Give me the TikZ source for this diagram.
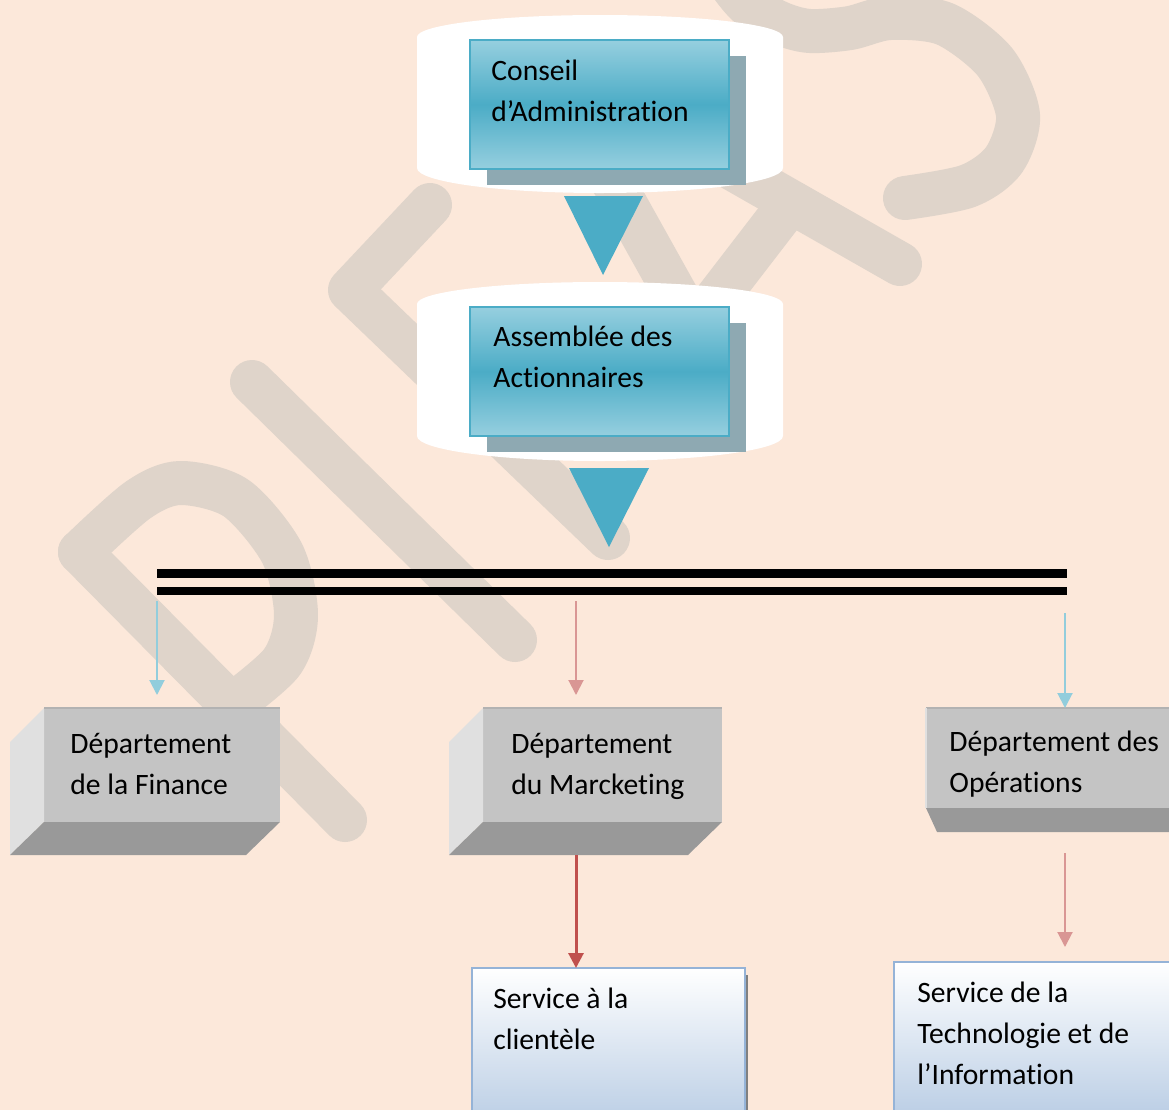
\documentclass[tikz,border=0pt]{standalone}
\usepackage{fontspec}
\setmainfont{Carlito}[Ligatures=NoCommon]
\usetikzlibrary{arrows.meta,calc,shadows}

\definecolor{pagebg}{HTML}{FCE8DA}
\definecolor{wmark}{HTML}{DFD4CA}
\definecolor{boardteal}{HTML}{4BACC6}
\definecolor{tealpale}{HTML}{96CFDF}
\definecolor{slate}{HTML}{8EA9B2}
\definecolor{grayfront}{HTML}{C4C4C4}
\definecolor{grayside}{HTML}{E0E0E0}
\definecolor{graybottom}{HTML}{999999}
\definecolor{grayedge}{HTML}{B2B2B2}
\definecolor{sky}{HTML}{92CDDC}
\definecolor{rose}{HTML}{D99694}
\definecolor{brick}{HTML}{C0504D}
\definecolor{steel}{HTML}{95B3D7}
\definecolor{mist}{HTML}{B8CCE4}

\tikzset{
  wm/.style={wmark, line width=22pt, line cap=round, line join=round},
  bluebox/.style={anchor=north west, outer sep=0pt, draw=boardteal, line width=1pt,
    top color=tealpale, bottom color=tealpale, middle color=boardteal,
    minimum width=129.5pt, minimum height=64.5pt,
    drop shadow={shadow xshift=8.5pt, shadow yshift=-8pt, fill=slate, opacity=1}},
  deptbox/.style={anchor=north west, outer sep=0pt, fill=grayfront, minimum height=57pt},
  svcbox/.style={anchor=north west, outer sep=0pt, draw=steel, line width=1pt,
    top color=white, bottom color=mist, minimum height=80pt,
    drop shadow={shadow xshift=1.5pt, shadow yshift=-3.5pt, fill=gray, opacity=1}},
  lbl/.style={anchor=base west, align=left, inner sep=0pt,
    font=\fontsize{14.8}{20.5}\selectfont},
  bus/.style={line width=4.25pt},
  skyarrow/.style={sky, line width=1pt, -{Triangle[length=7.5pt,width=7.5pt]}},
  rosearrow/.style={rose, line width=1pt, -{Triangle[length=7.5pt,width=7.5pt]}},
  brickarrow/.style={brick, line width=1.5pt, -{Triangle[length=7.5pt,width=7.5pt]}}
}

\begin{document}
\begin{tikzpicture}[x=0.5pt, y=-0.5pt]
    \useasboundingbox (0,0) rectangle (1169,1110);
    \fill[pagebg] (0,0) rectangle (1169,1110);
    \clip (0,0) rectangle (1169,1110); % the page cuts the right and lower boxes

    % watermark
    \draw[wm] (80,552) -- (345,820);
    \draw[wm] plot[smooth] coordinates {(80,552) (138,500) (180,483) (236,498) (282,553) (296,615) (282,662) (232,705)};
    \draw[wm] (252,382) -- (515,640);
    \draw[wm] (430,205) -- (350,290) -- (608,538);
    \draw[wm] (598,155) -- (690,320);
    \draw[wm] (700,150) -- (900,264);
    \draw[wm] (790,203) -- (700,320);
    \draw[wm] plot[smooth] coordinates {(718,-35) (735,-10) (752,8) (782,24) (810,31) (850,28) (890,18) (945,24) (995,62) (1018,115) (1004,160) (968,186) (905,198)};

    % white drums
    \foreach \top/\bot in {37/168, 304/436}{
        \fill[white] (417,\top) arc[start angle=180, end angle=0, x radius=91.5pt, y radius=11pt]
            -- (783,\bot) arc[start angle=0, end angle=-180, x radius=91.5pt, y radius=12.5pt] -- cycle;
    }

    \node[bluebox] (conseil) at (470,40) {};
    \node[lbl] (conseil-lbl) at ([shift={(21,81)}]conseil.north west) {Conseil\\d’Administration};
    \node[bluebox] (assemblee) at (470,307) {};
    \node[lbl] (assemblee-lbl) at ([shift={(23,80)}]assemblee.north west) {Assemblée des\\Actionnaires};

    % funnels
    \fill[boardteal] (564,196) -- (643,196) -- (603,275) -- cycle;
    \fill[boardteal] (569,468) -- (649,468) -- (609,547) -- cycle;

    % double bar
    \coordinate (busL) at (157,573.5);
    \coordinate (busR) at (1067,573.5);
    \draw[bus] (busL) -- (busR);
    \draw[bus] ([yshift=-8.75pt]busL) -- ([yshift=-8.75pt]busR);

    % departments
    \node[deptbox, minimum width=118pt] (fin) at (44,708) {};
    \node[deptbox, minimum width=119.5pt] (mkt) at (483,708) {};
    \node[deptbox, minimum width=125pt, minimum height=50pt] (ops) at (926,708) {};
    \foreach \d in {fin,mkt}{
        \fill[grayside] (\d.north west) -- (\d.south west) -- ++(-34,33) -- ([shift={(-34,34)}]\d.north west) -- cycle;
        \fill[graybottom] (\d.south west) -- (\d.south east) -- ++(-34,33) -- ([shift={(-34,33)}]\d.south west) -- cycle;
        \draw[grayedge, line width=1pt] (\d.north west) -- (\d.north east);
    }
    \fill[graybottom] (ops.south west) -- (ops.south east) -- ++(11,24) -- ([shift={(11,24)}]ops.south west) -- cycle;
    \draw[grayedge, line width=1pt] (ops.north west) -- (ops.north east);
    \draw[grayside, line width=1pt] (ops.north west) -- (ops.south west);

    \node[lbl] (fin-lbl) at ([shift={(26,86)}]fin.north west) {Département\\de la Finance};
    \node[lbl] (mkt-lbl) at ([shift={(28,86)}]mkt.north west) {Département\\du Marcketing};
    \node[lbl] (ops-lbl) at ([shift={(23,84)}]ops.north west) {Département des\\Opérations};

    % services
    \node[svcbox, minimum width=136.5pt] (client) at (472,968) {};
    \node[lbl] (client-lbl) at ([shift={(21,81)}]client.north west) {Service à la\\clientèle};
    \node[svcbox, minimum width=140pt] (tech) at (894,962) {};
    \node[lbl] (tech-lbl) at ([shift={(23,122)}]tech.north west) {Service de la\\Technologie et de\\l’Information};

    % arrows
    \coordinate (drop-fin) at (157,601);
    \coordinate (drop-mkt) at (576,601);
    \coordinate (drop-ops) at (1065,613);
    \draw[skyarrow, shorten >=6.5pt] (drop-fin) -- (drop-fin |- fin.north);
    \draw[rosearrow, shorten >=6.5pt] (drop-mkt) -- (drop-mkt |- mkt.north);
    \draw[skyarrow] (drop-ops) -- (drop-ops |- ops.north);
    \draw[brickarrow] ($(drop-mkt |- mkt.south)+(0,33)$) -- (drop-mkt |- client.north);
    \draw[rosearrow, shorten >=7.5pt] ($(drop-ops |- ops.south)+(0,45)$) -- (drop-ops |- tech.north);
\end{tikzpicture}
\end{document}
